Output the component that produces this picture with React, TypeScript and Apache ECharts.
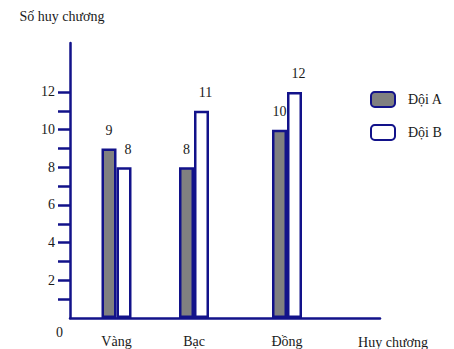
import React, { useEffect, useRef } from "react";
import * as echarts from "echarts";

const categories = ["Vàng", "Bạc", "Đồng"];
const teamA = [9, 8, 10];
const teamB = [8, 11, 12];
const yTickValues = [1, 2, 3, 4, 5, 6, 7, 8, 9, 10, 11, 12];
const yLabelValues = [2, 4, 6, 8, 10, 12];

// layout (not data): category slot positions on the horizontal value scale
const SLOT = [1.5, 4.0, 7.0];
const X_MAX = 10;
const Y_MAX = 14.6;

const NAVY = "#12128a";
const FONT = "Liberation Serif";
const TEXT = "#1a1a1a";
const RICH = { s: { fontFamily: FONT, fontSize: 14, color: TEXT } };

export default function App() {
  const ref = useRef<HTMLDivElement>(null);
  useEffect(() => {
    if (!ref.current) return;
    const chart = echarts.init(ref.current, null, { renderer: "svg" });
    const barLabel = {
      show: true,
      position: "top",
      distance: 11,
      color: TEXT,
      fontFamily: FONT,
      fontSize: 14,
      formatter: (p: any) => `{s|${p.value[1]}}`,
      rich: RICH,
    };
    chart.setOption({
      animation: false,
      backgroundColor: "#ffffff",
      textStyle: { fontFamily: FONT, color: TEXT },
      grid: { left: 70, top: 43, right: 74, bottom: 31, containLabel: false },
      legend: {
        orient: "vertical",
        left: 365,
        top: 86,
        itemWidth: 24,
        itemHeight: 15,
        itemGap: 16,
        icon: "roundRect",
        formatter: (n: string) => `{n|${n}}`,
        textStyle: {
          fontFamily: FONT,
          fontSize: 14,
          color: TEXT,
          rich: { n: { fontFamily: FONT, fontSize: 14, color: TEXT, padding: [0, 0, 0, 8] } },
        },
        data: ["Đội A", "Đội B"],
      },
      xAxis: {
        type: "value",
        min: 0,
        max: X_MAX,
        splitLine: { show: false },
        axisLine: { show: true, lineStyle: { color: NAVY, width: 2.5 } },
        axisTick: { show: false },
        axisLabel: {
          customValues: SLOT,
          formatter: (v: number) => {
            const i = SLOT.findIndex((s) => Math.abs(s - v) < 1e-6);
            return i >= 0 ? categories[i] : "";
          },
          margin: 16,
          fontFamily: FONT,
          fontSize: 14,
          color: TEXT,
        },
        name: "Huy chương",
        nameLocation: "end",
        nameGap: 13,
        nameTextStyle: {
          fontFamily: FONT,
          fontSize: 14,
          color: TEXT,
          align: "center",
          verticalAlign: "top",
          padding: [17, 0, 0, 0],
        },
      },
      yAxis: {
        type: "value",
        min: 0,
        max: Y_MAX,
        splitLine: { show: false },
        axisLine: { show: true, lineStyle: { color: NAVY, width: 2.5 } },
        axisTick: {
          show: true,
          customValues: yTickValues,
          length: 12,
          lineStyle: { color: NAVY, width: 2.5 },
        },
        axisLabel: {
          customValues: yLabelValues,
          margin: 15,
          fontFamily: FONT,
          fontSize: 14,
          color: TEXT,
          formatter: (v: number) => `{s|${v}}`,
          rich: RICH,
        },
        name: "Số huy chương",
        nameLocation: "end",
        nameGap: 20,
        nameTextStyle: {
          fontFamily: FONT,
          fontSize: 14,
          color: TEXT,
          align: "center",
          verticalAlign: "bottom",
          padding: [0, 16, 0, 0],
        },
      },
      graphic: [
        {
          type: "text",
          left: 56,
          top: 325,
          style: { text: "0", fontFamily: FONT, fontSize: 14, fill: TEXT },
        },
      ],
      series: [
        {
          name: "Đội A",
          type: "bar",
          barWidth: 15,
          barGap: "0%",
          data: categories.map((_, i) => [SLOT[i], teamA[i]]),
          itemStyle: { color: "#808080", borderColor: NAVY, borderWidth: 2.5 },
          label: barLabel,
        },
        {
          name: "Đội B",
          type: "bar",
          barWidth: 15,
          barGap: "0%",
          data: categories.map((_, i) => [SLOT[i], teamB[i]]),
          itemStyle: { color: "#ffffff", borderColor: NAVY, borderWidth: 2.5 },
          label: { ...barLabel, offset: [4, 0] },
        },
      ],
    });
    return () => chart.dispose();
  }, []);
  return (
    <div
      ref={ref}
      style={{ width: 454, height: 349, position: "absolute", left: 0, top: 0 }}
    />
  );
}
